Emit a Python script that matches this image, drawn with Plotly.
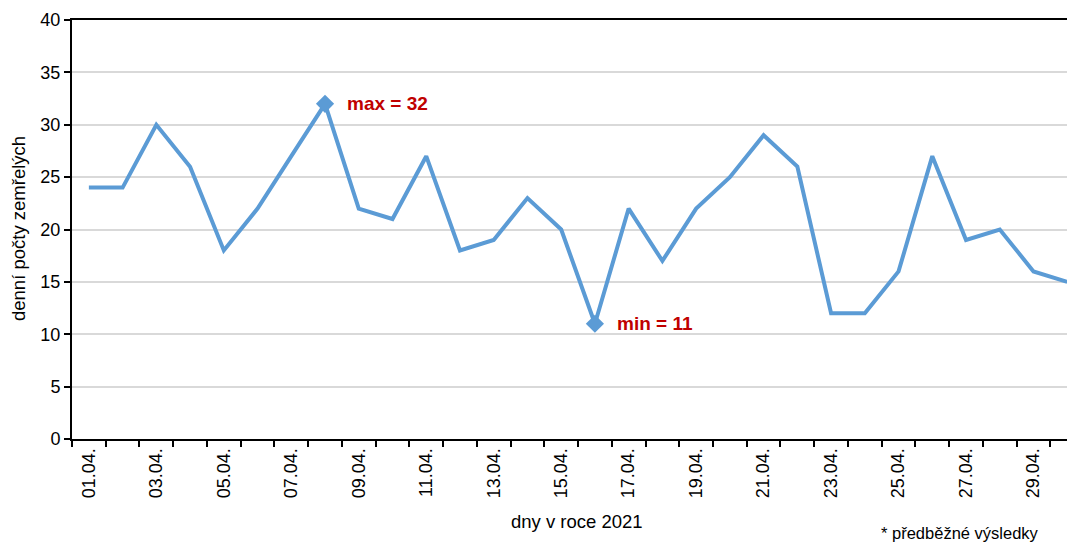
import plotly.graph_objects as go

days = [f"{d:02d}.04." for d in range(1, 31)]
deaths = [24, 24, 30, 26, 18, 22, 27, 32, 22, 21, 27, 18, 19, 23, 20,
          11, 22, 17, 22, 25, 29, 26, 12, 12, 16, 27, 19, 20, 16, 15]
y_ticks = [0, 5, 10, 15, 20, 25, 30, 35, 40]

FONT = "Liberation Sans, Arial, sans-serif"
BLUE = "#5B9BD5"
RED = "#C00000"

x_idx = list(range(len(days)))
imax = max(x_idx, key=lambda i: deaths[i])
imin = min(x_idx, key=lambda i: deaths[i])

fig = go.Figure()
fig.add_trace(go.Scatter(x=x_idx, y=deaths, mode="lines",
                         line=dict(color=BLUE, width=4), hoverinfo="skip"))
fig.add_trace(go.Scatter(x=[imax, imin], y=[deaths[imax], deaths[imin]], mode="markers",
                         marker=dict(symbol="diamond", size=14, color=BLUE), hoverinfo="skip"))

fig.add_annotation(x=imax, y=deaths[imax], text=f"<b>max = {deaths[imax]}</b>", showarrow=False,
                   xanchor="left", yanchor="middle", xshift=20,
                   font=dict(family=FONT, size=19, color=RED))
fig.add_annotation(x=imin, y=deaths[imin], text=f"<b>min = {deaths[imin]}</b>", showarrow=False,
                   xanchor="left", yanchor="middle", xshift=20,
                   font=dict(family=FONT, size=19, color=RED))

OFF = 8  # page body margin
W, H = 1075 - OFF, 543 - OFF
ML, MT = 72 - OFF, 20 - OFF
MB = H - (439 - OFF)
MR = 0


def px(x, y):
    x, y = x - OFF, y - OFF
    return (x - ML) / (W - ML - MR), (H - MB - y) / (H - MT - MB)


ax, ay = px(577, 521)
fig.add_annotation(x=ax, y=ay, xref="paper", yref="paper", text="dny v roce 2021", showarrow=False,
                   xanchor="center", yanchor="middle",
                   font=dict(family=FONT, size=18.5, color="#000"))
fx, fy = px(1041, 533)
fig.add_annotation(x=fx, y=fy, xref="paper", yref="paper", text="* předběžné výsledky",
                   showarrow=False, xanchor="right", yanchor="middle",
                   font=dict(family=FONT, size=16.5, color="#000"))
tx, ty = px(18, 229)
fig.add_annotation(x=tx, y=ty, xref="paper", yref="paper", text="denní počty zemřelých",
                   showarrow=False, textangle=-90, xanchor="center", yanchor="middle",
                   font=dict(family=FONT, size=18.5, color="#000"))

fig.update_layout(
    width=W, height=H,
    margin=dict(l=ML, r=MR, t=MT, b=MB, autoexpand=False),
    plot_bgcolor="white", paper_bgcolor="white",
    showlegend=False,
    font=dict(family=FONT, size=18, color="#000"),
    xaxis=dict(
        automargin=False,
        range=[-0.5, 29.23],
        tickmode="array", tickvals=x_idx[::2], ticktext=days[::2],
        tickangle=-90, ticks="", showgrid=False, zeroline=False,
        showline=True, linecolor="#000", linewidth=2, mirror=True,
        tickfont=dict(family=FONT, size=18, color="#000"),
        minor=dict(tickmode="linear", tick0=-0.5, dtick=1, ticks="outside",
                   ticklen=6, tickwidth=1.5, tickcolor="#000", showgrid=False),
    ),
    yaxis=dict(
        automargin=False,
        range=[0, 40], tickvals=y_ticks,
        ticks="outside", ticklen=6, tickwidth=1.5, tickcolor="#000",
        showgrid=True, gridcolor="#D9D9D9", gridwidth=1.5, zeroline=False,
        showline=True, linecolor="#000", linewidth=2,
        tickfont=dict(family=FONT, size=18, color="#000"),
    ),
)

fig.write_html("out.html")
